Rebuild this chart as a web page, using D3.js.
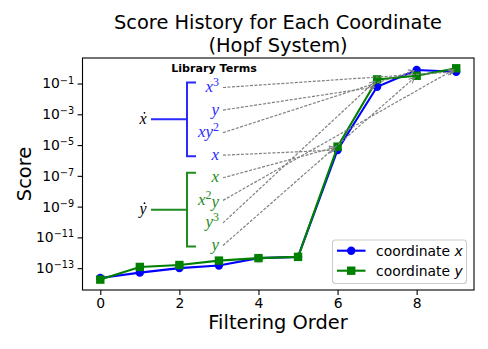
<!doctype html>
<html>
  <head>
    <script src="https://cdnjs.cloudflare.com/ajax/libs/d3/7.8.5/d3.min.js"></script>
    <style>
      body { margin: 0; background: white; }
      text { font-family: "DejaVu Sans", sans-serif; fill: black; }
      .tick text { font-size: 13.9px; }
      .tick line { stroke: black; stroke-width: 1.1px; }
      .term { font-family: "Liberation Serif", serif; font-style: italic; font-size: 17px; }
    </style>
  </head>
  <body>
    <svg id="chart" width="488" height="349"></svg>
    <script>
      // filtering order on the x axis
      var orders = [0, 1, 2, 3, 4, 5, 6, 7, 8, 9];
      // score of each coordinate
      var scoreX = [2.3e-14, 5.1e-14, 1.0e-13, 1.5e-13, 4.5e-13, 5.4e-13, 4.8e-6, 0.062, 0.76, 0.59];
      var scoreY = [1.8e-14, 1.2e-13, 1.6e-13, 3.1e-13, 4.5e-13, 5.4e-13, 7.9e-6, 0.186, 0.32, 0.98];

      var xTicks = [0, 2, 4, 6, 8];
      var yTicks = [1e-13, 1e-11, 1e-9, 1e-7, 1e-5, 1e-3, 1e-1];

      // library terms and the filtering order each one points to
      var xdotTerms = ["x^3", "y", "xy^2", "x"];
      var xdotOrders = [9, 7, 8, 6];
      var ydotTerms = ["x", "x^2y", "y^3", "y"];
      var ydotOrders = [6, 9, 7, 8];

      var svg = d3.select("#chart");
      var plotL = 82.5, plotR = 474, plotT = 58, plotB = 290;

      var x = d3.scaleLinear().domain([-0.45, 9.45]).range([plotL, plotR]);
      var y = d3.scaleLog().domain([Math.pow(10, -14.42), Math.pow(10, 0.66)]).range([plotB, plotT]);

      // axes
      var xAxis = svg.append("g")
        .attr("transform", `translate(0,${plotB})`)
        .call(d3.axisBottom(x).tickValues(xTicks).tickSize(4.9).tickSizeOuter(0).tickPadding(3.5).tickFormat(d3.format("d")));
      xAxis.select(".domain").remove();
      xAxis.selectAll(".tick text").attr("fill", "black").style("font-family", "DejaVu Sans");

      var yAxis = svg.append("g")
        .attr("transform", `translate(${plotL},0)`)
        .call(d3.axisLeft(y).tickValues(yTicks).tickSize(4.9).tickSizeOuter(0).tickPadding(3.5));
      yAxis.select(".domain").remove();
      yAxis.selectAll(".tick text").attr("fill", "black").style("font-family", "DejaVu Sans")
        .each(function(d) {
          var t = d3.select(this).text(null);
          t.append("tspan").text("10");
          t.append("tspan").attr("dy", "-0.5em").style("font-size", "9.7px")
            .text("\u2212" + Math.round(-Math.log10(d)));
        });

      svg.append("rect")
        .attr("x", plotL).attr("y", plotT)
        .attr("width", plotR - plotL).attr("height", plotB - plotT)
        .attr("fill", "none").attr("stroke", "black").attr("stroke-width", 1.1);

      // series
      var line = d3.line().x((d, i) => x(orders[i])).y(d => y(d));

      svg.append("path").datum(scoreX)
        .attr("d", line).attr("fill", "none").attr("stroke", "blue").attr("stroke-width", 2.1);
      svg.append("g").selectAll("circle").data(scoreX).enter().append("circle")
        .attr("cx", (d, i) => x(orders[i])).attr("cy", d => y(d)).attr("r", 4.2).attr("fill", "blue");

      svg.append("path").datum(scoreY)
        .attr("d", line).attr("fill", "none").attr("stroke", "green").attr("stroke-width", 2.1);
      svg.append("g").selectAll("rect").data(scoreY).enter().append("rect")
        .attr("x", (d, i) => x(orders[i]) - 4.2).attr("y", d => y(d) - 4.2)
        .attr("width", 8.4).attr("height", 8.4).attr("fill", "green");

      // library terms annotations
      var termY = d3.scaleLinear().domain([0, 7]).range([87.5, 245.5]);
      var termRight = 219, arrowStart = 223;

      function writeTerm(sel, s) {
        var parts = s.match(/[a-z](\^\d)?/g);
        parts.forEach(function(p, k) {
          var base = sel.append("tspan").text(p[0]);
          if (k > 0 && parts[k - 1].length > 1) base.attr("dy", "0.5em");
          if (p.length > 1) {
            sel.append("tspan").attr("dy", "-0.5em").style("font-size", "12px").style("font-style", "normal")
              .text(p[2]);
          }
        });
      }

      function drawGroup(terms, targets, scores, offset, color, name) {
        var g = svg.append("g");
        var y0 = termY(offset) - 5, y1 = termY(offset + terms.length - 1) + 1, ym = (y0 + y1) / 2;
        var bx = 187;
        g.append("path")
          .attr("d", `M${bx + 9},${y0}H${bx}V${y1}H${bx + 9}M${bx},${ym}H${bx - 36}`)
          .attr("fill", "none").attr("stroke", color).attr("stroke-width", 2);
        // dotted variable: italic letter with a dot above it
        g.append("text")
          .attr("class", "term").attr("x", 143).attr("y", ym + 4.5)
          .attr("text-anchor", "middle").style("font-size", "16px")
          .text(name);
        g.append("circle").attr("cx", 144.5).attr("cy", ym - 6.5).attr("r", 0.9).attr("fill", "black");

        terms.forEach(function(t, i) {
          var ty = termY(offset + i);
          var txt = g.append("text").attr("class", "term")
            .attr("x", termRight).attr("y", ty + 4.5)
            .attr("text-anchor", "end").style("fill", color);
          writeTerm(txt, t);
        });

        terms.forEach(function(t, i) {
          var sx = arrowStart, sy = termY(offset + i);
          var tx = x(targets[i]), ty = y(scores[orders.indexOf(targets[i])]);
          var dx = tx - sx, dy = ty - sy, len = Math.sqrt(dx * dx + dy * dy);
          var ux = dx / len, uy = dy / len;
          var ex = tx - ux * 2.8, ey = ty - uy * 2.8;
          svg.append("line")
            .attr("x1", sx).attr("y1", sy).attr("x2", ex).attr("y2", ey)
            .attr("stroke", "gray").attr("stroke-width", 1.2).attr("stroke-dasharray", "3,1.5");
          var hl = 5.6, hw = 2.8;
          svg.append("path")
            .attr("d", `M${ex - ux * hl - uy * hw},${ey - uy * hl + ux * hw}L${ex},${ey}L${ex - ux * hl + uy * hw},${ey - uy * hl - ux * hw}`)
            .attr("fill", "none").attr("stroke", "gray").attr("stroke-width", 1.1);
        });
      }

      drawGroup(xdotTerms, xdotOrders, scoreX, 0, "#2a2aff", "x");
      drawGroup(ydotTerms, ydotOrders, scoreY, 4, "#1f8c1f", "y");

      svg.append("text")
        .attr("x", 214).attr("y", 72)
        .attr("text-anchor", "middle")
        .style("font-size", "11.1px").style("font-weight", "bold")
        .text("Library Terms");

      // legend
      var lg = svg.append("g");
      lg.append("rect")
        .attr("x", 332.5).attr("y", 240).attr("width", 134).attr("height", 43.5).attr("rx", 3)
        .attr("fill", "white").attr("fill-opacity", 0.8).attr("stroke", "#cccccc").attr("stroke-width", 1.1);
      var legendItems = [
        {label: "x", color: "blue", shape: "circle"},
        {label: "y", color: "green", shape: "square"}
      ];
      legendItems.forEach(function(d, i) {
        var ly = 250.7 + i * 20;
        lg.append("line").attr("x1", 337).attr("x2", 365.5).attr("y1", ly).attr("y2", ly)
          .attr("stroke", d.color).attr("stroke-width", 2.1);
        if (d.shape == "circle") {
          lg.append("circle").attr("cx", 351.2).attr("cy", ly).attr("r", 4.2).attr("fill", d.color);
        } else {
          lg.append("rect").attr("x", 347).attr("y", ly - 4.2).attr("width", 8.4).attr("height", 8.4).attr("fill", d.color);
        }
        var t = lg.append("text").attr("x", 376).attr("y", ly + 5).style("font-size", "13.9px");
        t.append("tspan").text("coordinate ");
        t.append("tspan").style("font-style", "oblique").text(d.label);
      });

      // titles
      svg.append("text").attr("x", 278).attr("y", 29).attr("text-anchor", "middle")
        .style("font-size", "19.4px").text("Score History for Each Coordinate");
      svg.append("text").attr("x", 278).attr("y", 52).attr("text-anchor", "middle")
        .style("font-size", "19.4px").text("(Hopf System)");
      svg.append("text").attr("x", 278).attr("y", 329).attr("text-anchor", "middle")
        .style("font-size", "19.4px").text("Filtering Order");
      svg.append("text").attr("transform", "translate(31,174) rotate(-90)").attr("text-anchor", "middle")
        .style("font-size", "19.4px").text("Score");
    </script>
  </body>
</html>
